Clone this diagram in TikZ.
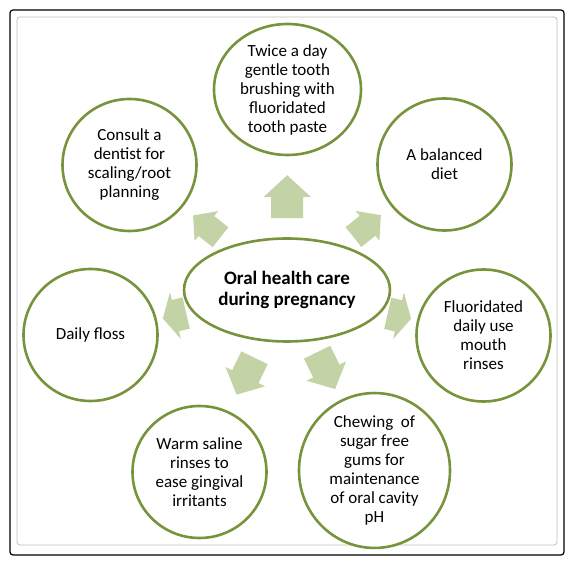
\documentclass[tikz,border=0pt]{standalone}
\usepackage{fontspec}
\setmainfont{Carlito}
\usepackage{tikz}
\usetikzlibrary{positioning,shapes.geometric}

\definecolor{olive}{HTML}{77933C}
\definecolor{palegreen}{HTML}{C4D3A6}

\tikzset{
  every topic/.style={ellipse, draw=olive, line width=2.6pt, fill=white,
    align=center, inner sep=0pt, font=\fontsize{17}{19}\selectfont,
    minimum width=134pt, minimum height=132pt},
  topic brush/.style={minimum width=147pt, minimum height=131pt},
  topic gum/.style={minimum width=151pt},
  hub/.style={minimum width=206pt, minimum height=103pt,
    font=\bfseries\fontsize{19}{20.5}\selectfont},
  blockarrow/.style={fill=palegreen, draw=none},
}

\begin{document}
\begin{tikzpicture}[x=1pt, y=1pt]

\useasboundingbox (0,0) rectangle (574,565);

% frames
\draw [rounded corners=3pt, line width=1.2pt] (10,10) rectangle (564,555);
\draw [rounded corners=3pt, draw=black!25, line width=0.8pt] (17,20) rectangle (557,548);

\node [every topic/.try, hub] (hub) at (287,275) {Oral health care\\during pregnancy};

\foreach \n/\x/\y/\t in {
  brush/287.5/475.5/{Twice a day\\gentle tooth\\brushing with\\fluoridated\\tooth paste},
  diet/444.5/400.5/{A balanced\\diet},
  dentist/129.5/400/{Consult a\\dentist for\\scaling/root\\planning},
  floss/90.5/230/{Daily floss},
  rinse/483.5/229.5/{Fluoridated\\daily use\\mouth\\rinses},
  saline/199.5/93/{Warm saline\\rinses to\\ease gingival\\irritants},
  gum/374.5/94.5/{Chewing~ of\\sugar free\\gums for\\maintenance\\of oral cavity\\pH}}
  \node [every topic/.try, topic \n/.try] (\n) at (\x,\y) {\t};

% block arrows half way between hub and topics (angle/length/width/head)
\foreach \n/\a/\l/\w/\h in {brush/90/43/48/22, diet/38.6/35/38/17,
                            dentist/141.6/35/38/17, floss/193/24/48/13,
                            rinse/-13/24/48/13, saline/244/41/44/20,
                            gum/296/41/44/20} {
  \path (hub) -- (\n) coordinate [pos=0.5] (mid-\n);
  \pgfmathsetmacro\s{\w/3}
  \fill [blockarrow, shift={(mid-\n)}, rotate=\a]
    (-\l/2,-\s) -- (\l/2-\h,-\s) -- (\l/2-\h,-\w/2) -- (\l/2,0)
    -- (\l/2-\h,\w/2) -- (\l/2-\h,\s) -- (-\l/2,\s) -- cycle;
}

\end{tikzpicture}
\end{document}
